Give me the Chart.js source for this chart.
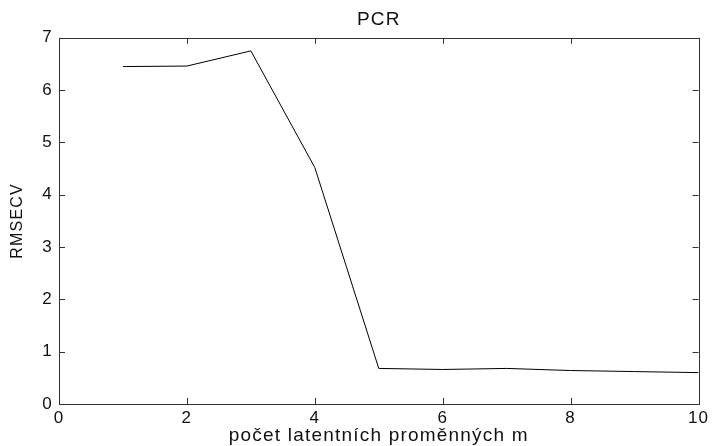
<!DOCTYPE html>
<html>
<head>
<meta charset="utf-8">
<script src="https://cdn.jsdelivr.net/npm/chart.js@4"></script>
<style>
  body { margin: 0; background: #fff; }
  #wrap { width: 712px; height: 446px; }
</style>
</head>
<body>
<div id="wrap"><canvas id="pcrChart" width="712" height="446"></canvas></div>
<script>
var components = [1, 2, 3, 4, 5, 6, 7, 8, 9, 10];
var rmsecv = [6.45, 6.46, 6.75, 4.52, 0.68, 0.66, 0.68, 0.64, 0.62, 0.60];
var xTicks = [0, 2, 4, 6, 8, 10];
var yTicks = [0, 1, 2, 3, 4, 5, 6, 7];

// the old matlab font is set quite wide, so space the letters out a little
var spacingPlugin = {
    id: 'spacing',
    beforeDraw: function (chart) {
        chart.ctx.letterSpacing = '1.2px';
    }
};

// box around the plot with inward ticks, matlab style
var boxPlugin = {
    id: 'box',
    afterDraw: function (chart) {
        var ctx = chart.ctx;
        var a = chart.chartArea;
        var xs = chart.scales.x, ys = chart.scales.y;
        ctx.save();
        ctx.strokeStyle = '#333';
        ctx.lineWidth = 1;
        ctx.strokeRect(Math.round(a.left) + 0.5, Math.round(a.top) + 0.5,
            Math.round(a.right - a.left), Math.round(a.bottom - a.top));
        ctx.beginPath();
        xTicks.forEach(function (v) {
            var px = Math.round(xs.getPixelForValue(v)) + 0.5;
            ctx.moveTo(px, a.bottom); ctx.lineTo(px, a.bottom - 6);
            ctx.moveTo(px, a.top); ctx.lineTo(px, a.top + 6);
        });
        yTicks.forEach(function (v) {
            var py = Math.round(ys.getPixelForValue(v)) + 0.5;
            ctx.moveTo(a.left, py); ctx.lineTo(a.left + 6, py);
            ctx.moveTo(a.right, py); ctx.lineTo(a.right - 6, py);
        });
        ctx.stroke();
        ctx.restore();
    }
};

var ctx = document.getElementById('pcrChart').getContext('2d');
var chart = new Chart(ctx, {
    type: 'line',
    data: {
        labels: components,
        datasets: [{
            data: components.map(function (c, i) { return { x: c, y: rmsecv[i] }; }),
            borderColor: '#000',
            borderWidth: 1,
            pointRadius: 0,
            tension: 0,
            fill: false
        }]
    },
    options: {
        responsive: false,
        animation: false,
        layout: { padding: { left: 0, right: 12, top: 0, bottom: 0 } },
        plugins: {
            legend: { display: false },
            tooltip: { enabled: false },
            title: {
                display: true,
                text: 'PCR',
                fullSize: false,
                color: '#111',
                font: { family: 'Liberation Sans', size: 19, weight: 'normal' },
                padding: { top: 8, bottom: 7 }
            }
        },
        scales: {
            x: {
                type: 'linear',
                min: 0, max: 10,
                afterBuildTicks: function (s) { s.ticks = xTicks.map(function (v) { return { value: v }; }); },
                grid: { display: false, drawTicks: false },
                border: { display: false },
                ticks: { color: '#111', padding: 4, maxRotation: 0,
                    font: { family: 'Liberation Sans', size: 17 } },
                title: {
                    display: true,
                    text: 'počet latentních proměnných m',
                    color: '#111',
                    font: { family: 'Liberation Sans', size: 19, lineHeight: 1.0 },
                    padding: { top: 0, bottom: 1 }
                },
                afterFit: function (s) { s.height = 42; }
            },
            y: {
                min: 0, max: 7,
                afterBuildTicks: function (s) { s.ticks = yTicks.map(function (v) { return { value: v }; }); },
                grid: { display: false, drawTicks: false },
                border: { display: false },
                ticks: { color: '#111', padding: 6,
                    font: { family: 'Liberation Sans', size: 17 } },
                title: {
                    display: true,
                    text: 'RMSECV',
                    color: '#111',
                    font: { family: 'Liberation Sans', size: 16 },
                    padding: { top: 8, bottom: 0 }
                },
                afterFit: function (s) { s.width = 59; }
            }
        }
    },
    plugins: [spacingPlugin, boxPlugin]
});
</script>
</body>
</html>
